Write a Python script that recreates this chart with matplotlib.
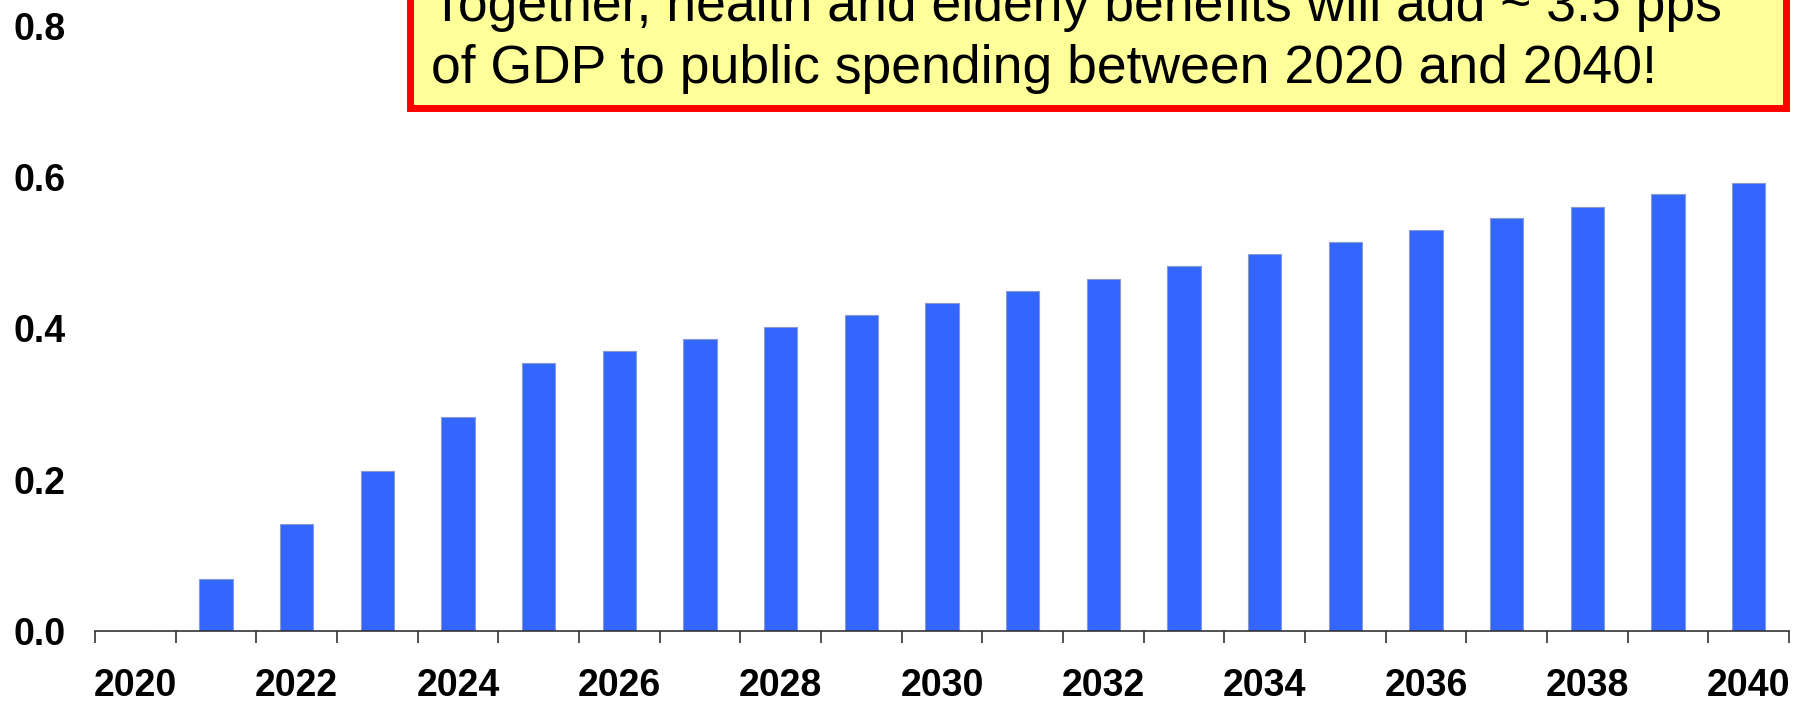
#!/usr/bin/env python3
"""Bar chart: extra public spending on health and elderly benefits, 2020-2040."""

import numpy as np
import matplotlib
matplotlib.use("Agg")
import matplotlib.pyplot as plt
from matplotlib.patches import Rectangle
from matplotlib.ticker import FixedLocator

years = list(range(2020, 2041))
added_spending = [0.0, 0.069, 0.141, 0.212, 0.283, 0.354, 0.370, 0.386, 0.402,
                  0.418, 0.434, 0.450, 0.466, 0.482, 0.498, 0.514, 0.530,
                  0.546, 0.561, 0.578, 0.593]
y_ticks = [0.0, 0.2, 0.4, 0.6, 0.8]
note_lines = [
    "Together, health and elderly benefits will add ~ 3.5 pps",
    "of GDP to public spending between 2020 and 2040!",
]

BAR_COLOR = "#3366FF"
AXIS_COLOR = "#333333"

plt.rcParams["font.family"] = ["Liberation Sans", "DejaVu Sans"]

fig = plt.figure(figsize=(18.06, 7.03), dpi=100)
ax = fig.add_axes([95 / 1806, 72 / 703, 1694 / 1806, 605 / 703])

x = np.arange(len(years))
ax.bar(x, added_spending, width=0.41, color=BAR_COLOR,
       edgecolor="#8a9ad0", linewidth=0.8, zorder=2)

ax.set_xlim(-0.5, len(years) - 0.5)
ax.set_ylim(0, 0.8)

# labels on every other year, tick marks between categories
ax.set_xticks(x[::2])
ax.set_xticklabels([str(y) for y in years[::2]])
ax.xaxis.set_minor_locator(FixedLocator(np.arange(-0.5, len(years), 1.0)))
ax.tick_params(axis="x", which="major", length=0, pad=27)
ax.tick_params(axis="x", which="minor", length=8.6, width=1.2,
               color=AXIS_COLOR, direction="out")

ax.set_yticks(y_ticks)
ax.set_yticklabels([f"{v:.1f}" for v in y_ticks])
ax.tick_params(axis="y", length=0, pad=21)

for lab in ax.get_xticklabels() + ax.get_yticklabels():
    lab.set_fontsize(27)
    lab.set_fontweight("bold")

for side in ("top", "right", "left"):
    ax.spines[side].set_visible(False)
ax.spines["bottom"].set_color(AXIS_COLOR)
ax.spines["bottom"].set_linewidth(1.2)
ax.spines["bottom"].set_zorder(3)

# callout box, running off the top edge
fig.add_artist(Rectangle((410 / 1806, 1 - 107.5 / 703),
                         (1786 - 410) / 1806, 0.3,
                         transform=fig.transFigure, facecolor="#FFFF99",
                         edgecolor="#FF0000", linewidth=5, zorder=5,
                         clip_on=False))
for line, ypix in zip(note_lines, (21, 83)):
    fig.text(431 / 1806, 1 - ypix / 703, line, fontsize=38.5,
             ha="left", va="baseline", color="black", zorder=6)

fig.savefig("out.png", dpi=100)
